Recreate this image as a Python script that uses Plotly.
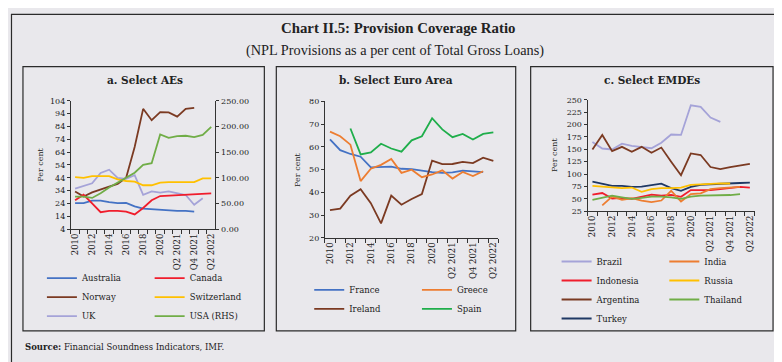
import plotly.graph_objects as go

# ---------------- data ----------------
categories = ["2010", "2011", "2012", "2013", "2014", "2015", "2016", "2017", "2018",
              "2019", "2020", "Q1 2021", "Q2 2021", "Q3 2021", "Q4 2021", "Q1 2022", "Q2 2022"]
tick_labels = [c if i % 2 == 0 else "" for i, c in enumerate(categories)]

# a. Select AEs (per cent; USA on right-hand scale)
australia = [24.3, 24.3, 26.3, 26.3, 25.0, 24.3, 24.5, 21.8, 20.0, 19.5, 18.8, 18.2, 18.2, 18.2, 17.7, None, None]
canada = [26.5, 30.8, 24.0, 17.2, 18.3, 18.3, 17.6, 15.5, 20.5, 26.5, 29.8, 30.2, 30.4, 31.2, 31.4, 31.8, 31.9]
norway = [33.4, 29.4, 32.6, 35.1, 37.2, 39.2, 44.0, 68.0, 97.7, 88.8, 95.1, 94.9, 91.6, 97.7, 98.4, None, None]
switzerland = [44.5, 44.0, 45.3, 45.3, 45.3, 42.7, 41.5, 41.0, 38.2, 38.2, 40.2, 40.7, 40.7, 40.7, 40.7, 43.5, 43.5]
uk = [35.6, 37.7, 39.7, 47.8, 50.3, 44.0, 43.2, 46.0, 30.8, 33.4, 32.4, 33.4, 32.1, 30.6, 23.0, 28.0, None]
usa_rhs = [63.5, 63.5, 60.8, 69.8, 81.0, 90.5, 100.0, 110.0, 125.3, 128.5, 184.3, 177.8, 181.0, 181.8, 179.3, 183.5, 199.3]

# b. Select Euro Area
france = [63.3, 58.6, 56.9, 55.7, 51.0, 51.3, 51.3, 50.4, 50.2, 49.6, 48.9, 48.6, 48.8, 49.6, 49.2, 48.9, None]
greece = [66.7, 64.7, 61.0, 45.0, 50.4, 52.1, 54.7, 48.6, 50.0, 46.7, 47.9, 49.7, 46.1, 49.0, 47.2, 49.3, None]
ireland = [32.2, 32.9, 38.6, 41.4, 35.3, 26.4, 38.6, 34.6, 37.1, 39.3, 54.0, 52.4, 52.5, 53.4, 52.9, 55.3, 53.9]
spain = [None, None, 68.1, 56.7, 57.6, 61.4, 59.3, 57.9, 62.9, 64.7, 72.6, 67.7, 64.3, 65.7, 63.3, 65.7, 66.4]

# c. Select EMDEs
brazil = [164.7, 151.6, 149.6, 161.4, 156.8, 154.9, 152.2, 163.4, 179.8, 179.0, 238.8, 235.6, 214.0, 205.4, None, None, None]
india = [None, 36.7, 54.5, 47.9, 51.2, 46.6, 43.3, 46.6, 66.3, 44.6, 59.7, 61.0, 69.5, 71.5, 72.8, 74.1, None]
indonesia = [58.4, 61.7, 50.5, 51.8, 49.9, 54.5, 58.4, 56.4, 58.0, 54.0, 67.6, 67.6, 67.6, 69.5, 71.5, 74.1, 72.8]
russia = [76.1, 74.1, 72.8, 71.5, 72.8, 64.3, 69.5, 71.5, 71.5, 72.8, 78.0, 79.4, 80.7, 81.4, 81.0, None, None]
argentina = [149.6, 179.0, 146.3, 155.0, 145.0, 155.0, 143.0, 153.5, 125.0, 97.8, 141.7, 138.5, 114.2, 110.2, 114.0, 117.5, 120.7]
thailand = [47.9, 51.8, 56.4, 53.1, 49.9, 51.8, 54.5, 54.5, 53.1, 49.9, 54.5, 56.4, 56.4, 56.4, 57.7, 59.7, None]
turkey = [84.6, 80.7, 76.1, 76.1, 74.1, 74.8, 78.0, 80.7, 71.5, 66.3, 74.1, 78.0, 79.4, 80.7, 81.4, 82.0, 82.6]

# ---------------- styling ----------------
W, H = 782, 362
BG = "#E9E8EC"
AX = "#333333"
SERIF = "DejaVu Serif"
TITLE_FONT = "Liberation Serif"


def fx(x):
    return x / W


def fy(y):
    return 1 - y / H


fig = go.Figure()

LW = 1.8


def add(name, y, color, xa, ya, legend):
    fig.add_trace(go.Scatter(x=categories, y=y, name=name, mode="lines",
                             line=dict(color=color, width=LW), xaxis=xa, yaxis=ya,
                             legend=legend, connectgaps=False, hoverinfo="skip"))


# panel a
add("Australia", australia, "#4472C4", "x", "y", "legend")
add("Norway", norway, "#7B3A22", "x", "y", "legend")
add("UK", uk, "#A5A3D8", "x", "y", "legend")
add("Canada", canada, "#F01D2C", "x", "y", "legend2")
add("Switzerland", switzerland, "#FFC000", "x", "y", "legend2")
add("USA (RHS)", usa_rhs, "#70AD47", "x", "y4", "legend2")
# panel b
add("France", france, "#4472C4", "x2", "y2", "legend3")
add("Ireland", ireland, "#7B3A22", "x2", "y2", "legend3")
add("Greece", greece, "#ED7D31", "x2", "y2", "legend4")
add("Spain", spain, "#1FAE4B", "x2", "y2", "legend4")
# panel c
add("Brazil", brazil, "#A5A3D8", "x3", "y3", "legend5")
add("Indonesia", indonesia, "#F01D2C", "x3", "y3", "legend5")
add("Argentina", argentina, "#7B3A22", "x3", "y3", "legend5")
add("Turkey", turkey, "#1F3864", "x3", "y3", "legend5")
add("India", india, "#ED7D31", "x3", "y3", "legend6")
add("Russia", russia, "#FFC000", "x3", "y3", "legend6")
add("Thailand", thailand, "#70AD47", "x3", "y3", "legend6")

tickfont = dict(family=SERIF, size=8, color="#222222")
xtickfont = dict(family=SERIF, size=8.5, color="#222222")


def xaxis(x0, x1, anchor):
    return dict(domain=[fx(x0), fx(x1)], anchor=anchor, type="category",
                categoryorder="array", categoryarray=categories,
                range=[-0.5, len(categories) - 0.5],
                tickmode="array", tickvals=categories, ticktext=tick_labels,
                tickson="boundaries", ticks="outside", ticklen=4, tickcolor=AX,
                tickangle=-90, tickfont=xtickfont, showline=True, linecolor=AX,
                linewidth=1, showgrid=False, zeroline=False, fixedrange=True)


def yaxis(y0, y1, anchor, rng, dtick, side="left", fmt=None, overlay=None):
    d = dict(domain=[fy(y1), fy(y0)], anchor=anchor, range=rng, dtick=dtick,
             tick0=rng[0], ticks="outside", ticklen=3, tickcolor=AX, side=side,
             tickfont=tickfont, showline=True, linecolor=AX, linewidth=1,
             showgrid=False, zeroline=False, fixedrange=True)
    if fmt:
        d["tickformat"] = fmt
    if overlay:
        d["overlaying"] = overlay
        d.pop("domain")
    return d


# plot-area pixel boxes
A = (62, 207, 91, 222.7)
B = (316.7, 490.7, 91.7, 231.7)
C = (580, 747.7, 90, 204.3)

fig.update_layout(
    width=W, height=H, margin=dict(l=0, r=0, t=0, b=0),
    paper_bgcolor=BG, plot_bgcolor=BG,
    xaxis=xaxis(A[0], A[1], "y"),
    yaxis=yaxis(A[2], A[3], "x", [4, 104], 10),
    yaxis4=yaxis(A[2], A[3], "x", [0, 250], 50, side="right", fmt=".2f", overlay="y"),
    xaxis2=xaxis(B[0], B[1], "y2"),
    yaxis2=yaxis(B[2], B[3], "x2", [20, 80], 10),
    xaxis3=xaxis(C[0], C[1], "y3"),
    yaxis3=yaxis(C[2], C[3], "x3", [25, 250], 25),
    showlegend=True,
)

legfont = dict(family=SERIF, size=8.5, color="#222222")


def leg(x, y):
    return dict(x=fx(x), y=fy(y), xanchor="left", yanchor="top", orientation="v",
                bgcolor="rgba(0,0,0,0)", borderwidth=0, font=legfont, itemwidth=30,
                tracegroupgap=0, itemclick=False, itemdoubleclick=False)


fig.update_layout(
    legend=leg(33, 258), legend2=leg(141, 258),
    legend3=leg(301, 270), legend4=leg(409, 270),
    legend5=leg(549, 241), legend6=leg(657, 241),
)

# borders
shapes = [dict(type="rect", xref="paper", yref="paper", x0=fx(2.5), x1=fx(779), y0=fy(359.5), y1=fy(2.5),
               line=dict(color="#2b2b2b", width=1.2), fillcolor="rgba(0,0,0,0)", layer="below")]
for (x0, x1) in [(14, 256), (268, 508), (523, 766)]:
    shapes.append(dict(type="rect", xref="paper", yref="paper", x0=fx(x0), x1=fx(x1), y0=fy(327), y1=fy(56),
                       line=dict(color="#2b2b2b", width=1.2), fillcolor="rgba(0,0,0,0)", layer="below"))
fig.update_layout(shapes=shapes)

ann = []
ann.append(dict(text="<b>Chart II.5: Provision Coverage Ratio</b>", x=fx(390), y=fy(16), xref="paper", yref="paper",
                showarrow=False, xanchor="center", yanchor="middle",
                font=dict(family=TITLE_FONT, size=14.8, color="#222222")))
ann.append(dict(text="(NPL Provisions as a per cent of Total Gross Loans)", x=fx(387), y=fy(39), xref="paper",
                yref="paper", showarrow=False, xanchor="center", yanchor="middle",
                font=dict(family=TITLE_FONT, size=14.3, color="#222222")))
for txt, cx in [("a. Select AEs", 136), ("b. Select Euro Area", 388), ("c. Select EMDEs", 644.5)]:
    ann.append(dict(text="<b>" + txt + "</b>", x=fx(cx), y=fy(70), xref="paper", yref="paper", showarrow=False,
                    xanchor="center", yanchor="middle", font=dict(family=SERIF, size=10.5, color="#222222")))
for cx, box in [(32, A), (289, B), (547, C)]:
    ann.append(dict(text="Per cent", x=fx(cx), y=fy((box[2] + box[3]) / 2), xref="paper", yref="paper",
                    showarrow=False, textangle=-90, xanchor="center", yanchor="middle",
                    font=dict(family=SERIF, size=8, color="#222222")))
ann.append(dict(text="<b>Source:</b> Financial Soundness Indicators, IMF.", x=fx(14), y=fy(344), xref="paper",
                yref="paper", showarrow=False, xanchor="left", yanchor="middle",
                font=dict(family=SERIF, size=8.5, color="#222222")))
fig.update_layout(annotations=ann)

fig.write_html("out.html")
